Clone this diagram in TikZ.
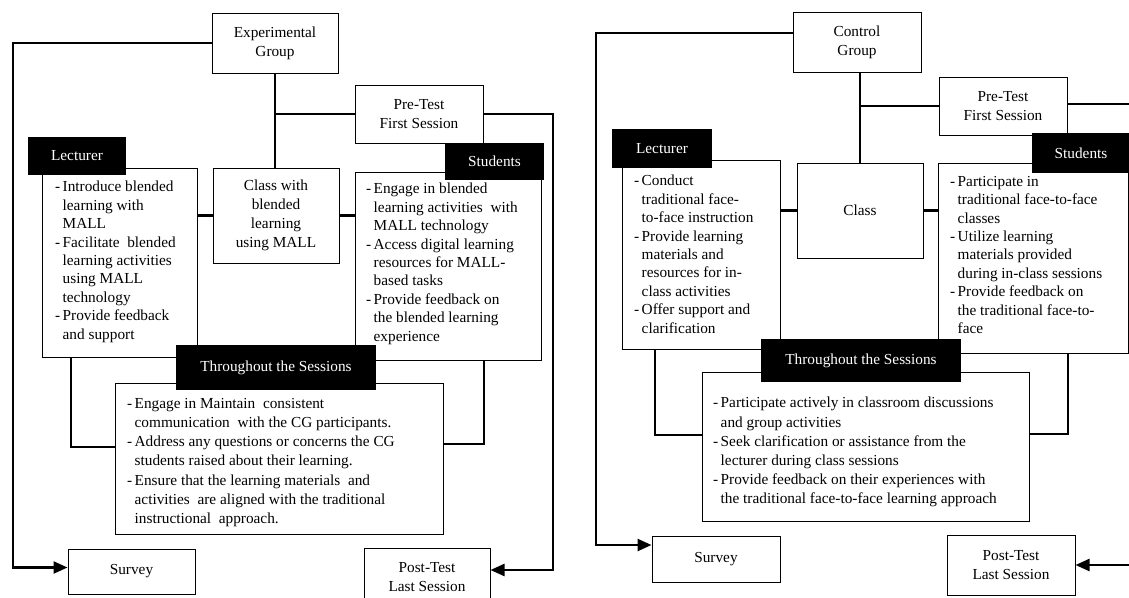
\documentclass[tikz,border=0pt]{standalone}
\usepackage{fontspec}
\setmainfont{Liberation Serif}
\usetikzlibrary{arrows.meta,fit}
\newcommand\bul{\makebox[7.5pt][l]{-}}
\newcommand\cnt{\hspace*{7.5pt}}
\begin{document}
\begin{tikzpicture}[x=1pt,y=-1pt,
  box/.style={draw,line width=1pt,fill=white,inner sep=0pt},
  head/.style={fill=black,inner sep=0pt},
  htxt/.style={text=white,inner sep=0pt,font=\fontsize{15.3}{18.5}\selectfont},
  lbl/.style={inner sep=0pt,align=center,font=\fontsize{15.3}{19}\selectfont},
  txt/.style={inner sep=0pt,anchor=north west,align=left,font=\fontsize{15.3}{18.4}\selectfont},
  ttxt/.style={txt,font=\fontsize{15.3}{19.2}\selectfont},
  conn/.style={line width=2.4pt},
  arr/.style={conn,-{Triangle[length=14pt,width=12pt]}}
]
\useasboundingbox (0,0) rectangle (1129,597);
\clip (0,0) rectangle (1129,597);
% ---------- coordinates for connector bends ----------
\coordinate (l1) at (13,0);
\coordinate (r1) at (553,0);
\coordinate (l1b) at (71,447);
\coordinate (s1b) at (484,444);
\coordinate (l2) at (596,0);
\coordinate (r2) at (1132,0);
\coordinate (l2b) at (655,435);
\coordinate (s2b) at (1068,434);
% ---------- left panel boxes ----------
\node[box,fit={(212,13)(338,73)}] (eg) {};
\node[box,fit={(355,85)(483,143)}] (pre1) {};
\node[box,fit={(213,168)(339,263)}] (class1) {};
\node[box,fit={(42,168)(197,357)}] (lb1) {};
\node[box,fit={(355,172)(541,360)}] (sb1) {};
\node[box,fit={(115,383)(443,534)}] (tb1) {};
\node[box,fit={(68,549)(195,594)}] (survey1) {};
\node[box,fit={(364,548)(490,604)}] (post1) {};
% ---------- right panel boxes ----------
\node[box,fit={(793,12)(921,72)}] (cg) {};
\node[box,fit={(939,77)(1067,135)}] (pre2) {};
\node[box,fit={(797,163)(923,258)}] (class2) {};
\node[box,fit={(622,160)(780,349)}] (lb2) {};
\node[box,fit={(938,163)(1128,353)}] (sb2) {};
\node[box,fit={(702,372)(1029,521)}] (tb2) {};
\node[box,fit={(652,536)(780,582)}] (survey2) {};
\node[box,fit={(947,535)(1075,595)}] (post2) {};
% ---------- box labels ----------
\node[lbl] (egt) at (eg.center) {Experimental\\Group};
\node[lbl] (pre1t) at (pre1.center) {Pre-Test\\First Session};
\node[lbl] (class1t) at (class1.center) {Class with\\blended\\learning\\using MALL};
\node[lbl] (survey1t) at (survey1.center) {Survey};
\node[lbl] (post1t) at ([yshift=-1pt]post1.center) {Post-Test\\Last Session};
\node[lbl] (cgt) at (cg.center) {Control\\Group};
\node[lbl] (pre2t) at (pre2.center) {Pre-Test\\First Session};
\node[lbl] (class2t) at (class2.center) {Class};
\node[lbl] (survey2t) at (survey2.center) {Survey};
\node[lbl] (post2t) at (post2.center) {Post-Test\\Last Session};
% ---------- connectors left ----------
\draw[arr] (eg.west) -- (eg.west -| l1) |- ([yshift=4pt]survey1.west);
\draw[conn] (eg.south) -- (eg.south |- class1.north);
\draw[conn] (pre1.west) -- (pre1.west -| eg.south);
\draw[arr] (pre1.east) -- (pre1.east -| r1) |- ([yshift=6pt]post1.east);
\draw[conn] (class1.west) -- (class1.west -| lb1.east);
\draw[conn] (class1.east) -- (class1.east -| sb1.west);
\draw[conn] (lb1.south -| l1b) -- (l1b) -- (l1b -| tb1.west);
\draw[conn] (sb1.south -| s1b) -- (s1b) -- (s1b -| tb1.east);
% ---------- connectors right ----------
\draw[arr] ([yshift=9pt]cg.west) -- ([yshift=9pt]cg.west -| l2) |- ([yshift=14pt]survey2.west);
\draw[conn] (class2.north) -- (class2.north |- cg.south);
\draw[conn] (pre2.west) -- (pre2.west -| class2.north);
\draw[arr] ([yshift=2pt]pre2.east) -- ([yshift=2pt]pre2.east -| r2) |- (post2.east);
\draw[conn] (class2.west) -- (class2.west -| lb2.east);
\draw[conn] (class2.east) -- (class2.east -| sb2.west);
\draw[conn] (lb2.south -| l2b) -- (l2b) -- (l2b -| tb2.west);
\draw[conn] (sb2.south -| s2b) -- (s2b) -- (s2b -| tb2.east);
% ---------- headers ----------
\node[head,fit={(28,137)(126,175)}] (lh1) {};
\node[head,fit={(445,143)(544,180)}] (sh1) {};
\node[head,fit={(176,345)(376,390)}] (th1) {};
\node[head,fit={(612,129)(712,168)}] (lh2) {};
\node[head,fit={(1032,133)(1140,173)}] (sh2) {};
\node[head,fit={(761,339)(961,382)}] (th2) {};
\node[htxt] (lh1t) at (lh1.center) {Lecturer};
\node[htxt] (sh1t) at (sh1.center) {Students};
\node[htxt] (th1t) at (th1.center) {Throughout the Sessions};
\node[htxt] (lh2t) at (lh2.center) {Lecturer};
\node[htxt] (sh2t) at ([xshift=-5pt]sh2.center) {Students};
\node[htxt] (th2t) at (th2.center) {Throughout the Sessions};
% ---------- list texts left ----------
\node[txt] (lt1) at (55,181) {\bul Introduce blended\\\cnt learning with\\\cnt MALL\\\bul Facilitate\ \ blended\\\cnt learning activities\\\cnt using MALL\\\cnt technology\\\bul Provide feedback\\\cnt and support};
\node[txt] (st1) at (366,183) {\bul Engage in blended\\\cnt learning activities\ \ with\\\cnt MALL technology\\\bul Access digital\ learning\\\cnt resources for MALL-\\\cnt based tasks\\\bul Provide feedback\ on\\\cnt the blended learning\\\cnt experience};
\node[ttxt] (tt1) at (127,398) {\bul Engage in Maintain\ \ consistent\\\cnt communication\ \ with the CG participants.\\\bul Address any questions or concerns the CG\\\cnt students raised about their learning.\\\bul Ensure that the learning materials\ \ and\\\cnt activities\ \ are aligned with the traditional\\\cnt instructional\ \ approach.};
% ---------- list texts right ----------
\node[txt] (lt2) at (634,175) {\bul Conduct\\\cnt traditional face-\\\cnt to-face instruction\\\bul Provide learning\\\cnt materials and\\\cnt resources for in-\\\cnt class activities\\\bul Offer support and\\\cnt clarification};
\node[txt] (st2) at (950,176) {\bul Participate in\\\cnt traditional face-to-face\\\cnt classes\\\bul Utilize learning\\\cnt materials provided\\\cnt during in-class sessions\\\bul Provide feedback on\\\cnt the traditional face-to-\\\cnt face};
\node[ttxt] (tt2) at (713,397) {\bul Participate actively in classroom discussions\\\cnt and group activities\\\bul Seek clarification or assistance from the\\\cnt lecturer during class sessions\\\bul Provide feedback on their experiences with\\\cnt the traditional face-to-face learning approach};
\end{tikzpicture}
\end{document}
